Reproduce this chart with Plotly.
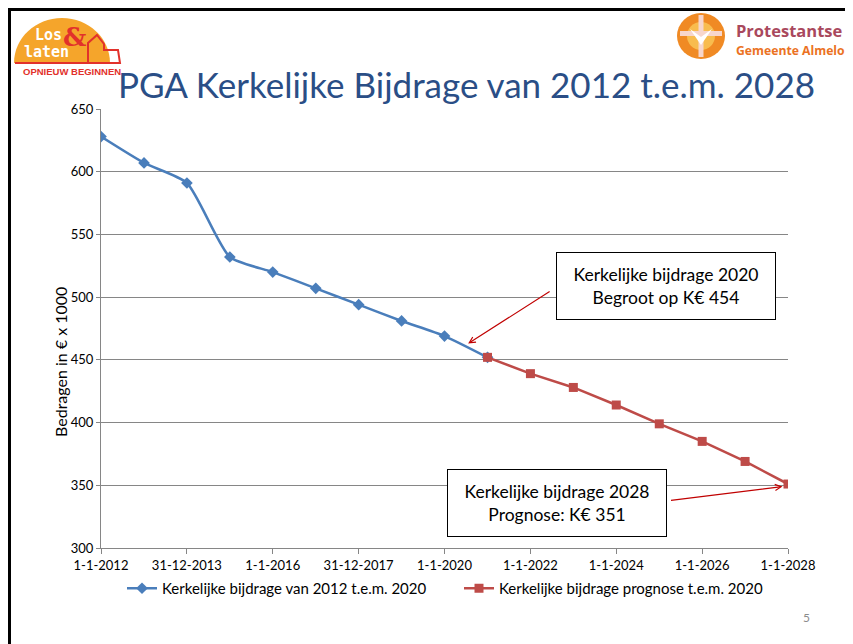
import plotly.graph_objects as go

# data (bedragen in € x 1000)
years_actual = ['2012-01-01', '2013-01-01', '2014-01-01', '2015-01-01', '2016-01-01',
                '2017-01-01', '2018-01-01', '2019-01-01', '2020-01-01', '2021-01-01']
values_actual = [628, 607, 591, 532, 520, 507, 494, 481, 469, 452]

years_forecast = ['2021-01-01', '2022-01-01', '2023-01-01', '2024-01-01',
                  '2025-01-01', '2026-01-01', '2027-01-01', '2028-01-01']
values_forecast = [452, 439, 428, 414, 399, 385, 369, 351]

tick_dates = ['2012-01-01', '2013-12-31', '2016-01-01', '2017-12-31', '2020-01-01',
              '2022-01-01', '2024-01-01', '2026-01-01', '2028-01-01']
tick_labels = ['1-1-2012', '31-12-2013', '1-1-2016', '31-12-2017', '1-1-2020',
               '1-1-2022', '1-1-2024', '1-1-2026', '1-1-2028']

# page body has an 8px margin, so the figure sits at (8, 8) on screen
OFF = 8
W, H = 853 - OFF, 644 - OFF
PL, PR, PT, PB = 101, 788, 109, 548   # plot area in screen pixels
FONT = 'Lato'

def px(x):
    return (x - PL) / (PR - PL)

def py(y):
    return (PB - y) / (PB - PT)

def pt(x, y):
    return f'{px(x)},{py(y)}'

fig = go.Figure()
fig.add_trace(go.Scatter(x=years_actual, y=values_actual, mode='lines+markers',
                         name='Kerkelijke bijdrage van 2012 t.e.m. 2020',
                         line=dict(color='#4A7EBB', width=2.5, shape='spline', smoothing=0.6),
                         marker=dict(symbol='diamond', size=9, color='#4A7EBB')))
fig.add_trace(go.Scatter(x=years_forecast, y=values_forecast, mode='lines+markers',
                         name='Kerkelijke bijdrage prognose t.e.m. 2020',
                         line=dict(color='#BE4B48', width=2.5),
                         marker=dict(symbol='square', size=9, color='#BE4B48')))

def paper_shape(**kw):
    d = dict(xref='paper', yref='paper')
    d.update(kw)
    return d

shapes = []
# slide border
shapes.append(paper_shape(type='line', x0=px(9.5), x1=px(9.5), y0=py(8), y1=py(644),
                          line=dict(color='black', width=3)))
shapes.append(paper_shape(type='line', x0=px(8), x1=px(853), y0=py(9.5), y1=py(9.5),
                          line=dict(color='black', width=3)))
shapes.append(paper_shape(type='line', x0=px(850.5), x1=px(850.5), y0=py(8), y1=py(80),
                          line=dict(color='black', width=3)))

# left logo: half sun with house outline
cx, cy, rx, ry = 62, 63, 48, 45
k = 0.5523
sun = (f'M {pt(cx-rx, cy)} '
       f'C {pt(cx-rx, cy-ry*k)} {pt(cx-rx*k, cy-ry)} {pt(cx, cy-ry)} '
       f'C {pt(cx+rx*k, cy-ry)} {pt(cx+rx, cy-ry*k)} {pt(cx+rx, cy)} Z')
shapes.append(paper_shape(type='path', path=sun, fillcolor='#F5A52B', line=dict(width=0)))
house = [(15, 63), (120, 63), (118, 50), (104, 50), (104, 44), (97, 35), (88, 43), (88, 63)]
shapes.append(paper_shape(type='path', path='M ' + ' L '.join(pt(a, b) for a, b in house),
                          fillcolor='rgba(0,0,0,0)', line=dict(color='#E2312B', width=2)))

# right logo: sun with cross
shapes.append(paper_shape(type='circle', x0=px(677), x1=px(725), y0=py(13), y1=py(59),
                          fillcolor='#F08A24', line=dict(width=0)))
shapes.append(paper_shape(type='circle', x0=px(687), x1=px(715), y0=py(22), y1=py(50),
                          fillcolor='#F8BC4E', line=dict(width=0)))
shapes.append(paper_shape(type='rect', x0=px(698.5), x1=px(703.5), y0=py(15), y1=py(57),
                          fillcolor='#F7D6CC', line=dict(width=0)))
shapes.append(paper_shape(type='rect', x0=px(680), x1=px(722), y0=py(31), y1=py(36),
                          fillcolor='#F7D6CC', line=dict(width=0)))
shapes.append(paper_shape(type='path',
                          path=f'M {pt(690, 29)} L {pt(701, 37)} L {pt(712, 29)} L {pt(701, 45)} Z',
                          fillcolor='white', line=dict(width=0)))

def label(text, x, y, size, color, family=FONT, xanchor='center', angle=0):
    return dict(text=text, xref='paper', yref='paper', x=px(x), y=py(y), showarrow=False,
                xanchor=xanchor, yanchor='middle', textangle=angle,
                font=dict(family=family, size=size, color=color))

annotations = [
    label('PGA Kerkelijke Bijdrage van 2012 t.e.m. 2028', 466, 84, 35, '#2A4E86'),
    label('<b>Los</b>', 48, 35, 15, 'white', family='DejaVu Sans Mono'),
    label('<b>laten</b>', 46, 52, 15, 'white', family='DejaVu Sans Mono'),
    label('<b>&amp;</b>', 74, 37, 26, '#E2312B', family='DejaVu Serif'),
    label('<b>OPNIEUW BEGINNEN</b>', 72, 72, 9.5, '#E2312B', family='Liberation Sans'),
    label('<b>Protestantse</b>', 734, 31, 16.5, '#A9485D', family='Open Sans', xanchor='left'),
    label('<b>Gemeente Almelo</b>', 734, 50, 12.2, '#EB7223', family='Open Sans', xanchor='left'),
    label('5', 806, 617, 12, '#8C8C8C'),
    label('Bedragen in € x 1000', 60, 362, 16, 'black', angle=-90),
    # annotation boxes
    dict(text='Kerkelijke bijdrage 2020<br>Begroot op K€ 454', x='2025-03-01', y=509,
         showarrow=False, width=214, height=62, borderpad=2, borderwidth=1, bordercolor='black',
         bgcolor='white', font=dict(family=FONT, size=17.5, color='black')),
    dict(text='Kerkelijke bijdrage 2028<br>Prognose: K€ 351', x='2022-08-15', y=336,
         showarrow=False, width=214, height=62, borderpad=2, borderwidth=1, bordercolor='black',
         bgcolor='white', font=dict(family=FONT, size=17.5, color='black')),
    # arrows
    dict(text='', x='2020-07-20', y=463, ax=83, ay=-53, showarrow=True, arrowhead=5,
         arrowsize=1, arrowwidth=1.2, arrowcolor='#C00000'),
    dict(text='', x='2027-11-15', y=349, ax=-113, ay=14, showarrow=True, arrowhead=5,
         arrowsize=1, arrowwidth=1.2, arrowcolor='#C00000'),
]

fig.update_layout(
    width=W, height=H,
    margin=dict(l=PL - OFF, r=W - (PR - OFF), t=PT - OFF, b=H - (PB - OFF)),
    paper_bgcolor='white', plot_bgcolor='white',
    font=dict(family=FONT, size=13, color='black'),
    shapes=shapes, annotations=annotations,
    legend=dict(orientation='h', x=px(459), xanchor='center', y=py(572), yanchor='top',
                font=dict(family=FONT, size=15), entrywidth=292),
    xaxis=dict(type='date', range=['2012-01-01', '2028-01-01'], tickvals=tick_dates,
               ticktext=tick_labels, showgrid=False, showline=True, linecolor='#868686',
               linewidth=1, ticks='outside', ticklen=5, tickcolor='#868686',
               tickfont=dict(size=13)),
    yaxis=dict(range=[300, 650], dtick=50, showgrid=True, gridcolor='#868686', gridwidth=1,
               showline=True, linecolor='#868686', ticks='outside', ticklen=4,
               tickcolor='#868686', zeroline=False, tickfont=dict(size=13)),
)

fig.write_html('out.html')
